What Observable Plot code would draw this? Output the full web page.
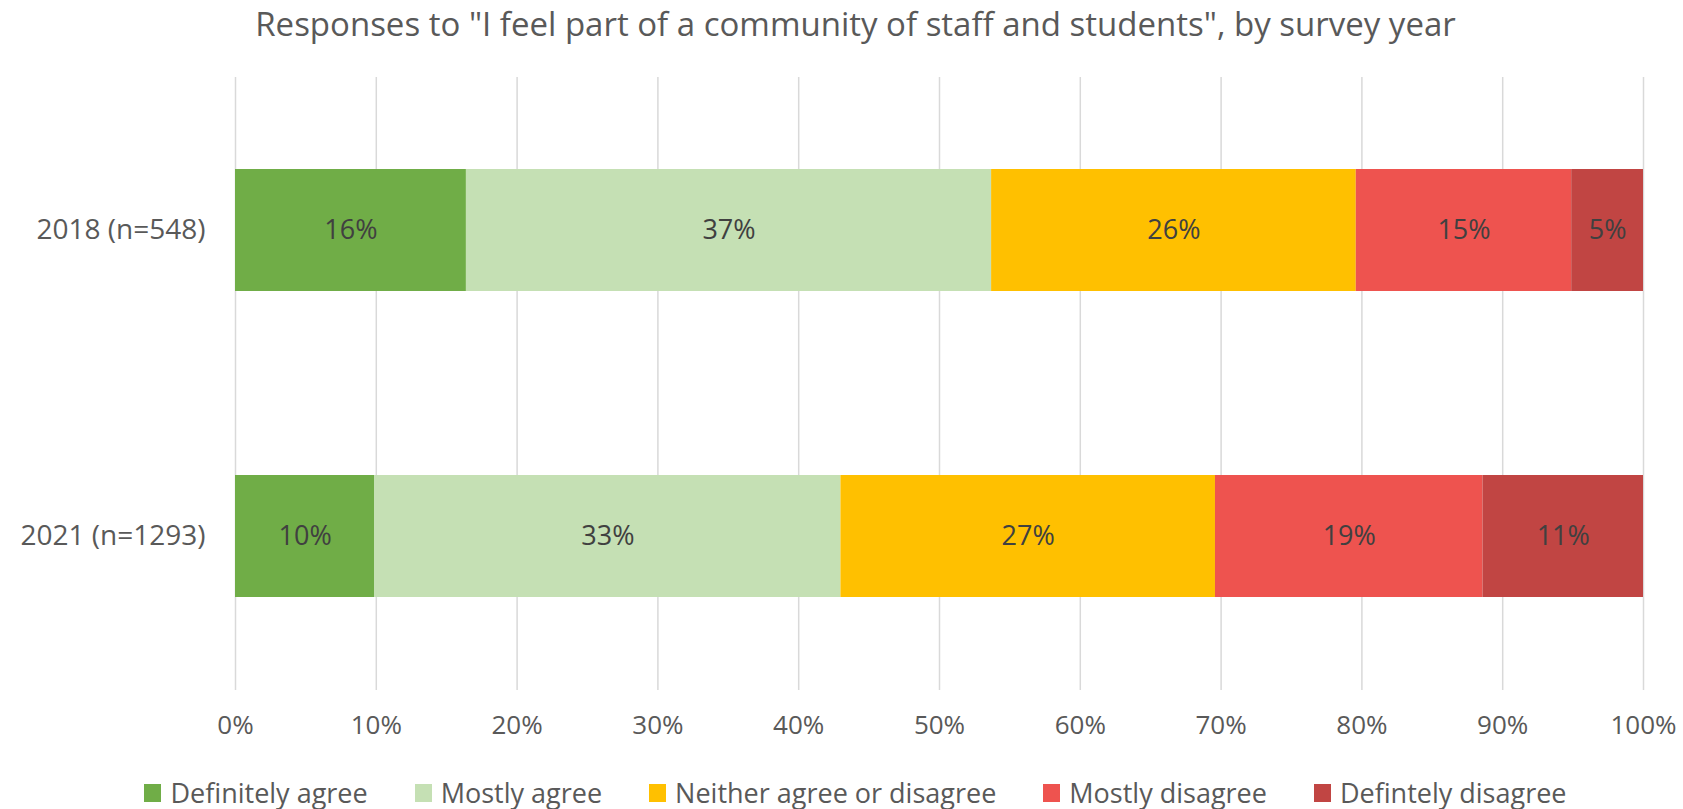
<!DOCTYPE html>
<html>
<head>
<meta charset="utf-8">
<script src="https://cdn.jsdelivr.net/npm/d3@7"></script>
<script src="https://cdn.jsdelivr.net/npm/@observablehq/plot@0.6"></script>
<style>
  html, body { margin: 0; padding: 0; background: #fff; }
  body { width: 1683px; height: 809px; overflow: hidden; font-family: "Open Sans", sans-serif; position: relative; }
  #title { height: 50px; line-height: 48px; text-align: center; font-size: 33px; color: #595959; padding-left: 28px; box-sizing: border-box; white-space: nowrap; }
  #chart svg { display: block; }
  #legend { position: absolute; left: 0; top: 772px; width: 1683px; box-sizing: border-box; display: flex; justify-content: center; align-items: center; gap: 47px; padding-left: 28px; height: 42px; font-size: 27px; line-height: 36px; color: #595959; }
  .item { display: flex; align-items: center; gap: 9px; }
  .sw { width: 17px; height: 18px; }
</style>
</head>
<body>
<div id="title">Responses to "I feel part of a community of staff and students", by survey year</div>
<div id="chart"></div>
<div id="legend"></div>
<script>
const years = ["2018 (n=548)", "2021 (n=1293)"];
const categories = ["Definitely agree", "Mostly agree", "Neither agree or disagree", "Mostly disagree", "Defintely disagree"];
const colors = ["#70AD47", "#C5E0B4", "#FFC000", "#EE534F", "#C14543"];
const values2018 = [16.4, 37.3, 25.9, 15.3, 5.1];
const values2021 = [9.9, 33.1, 26.6, 19.0, 11.4];
const xTicks = [0, 10, 20, 30, 40, 50, 60, 70, 80, 90, 100];

const series = [values2018, values2021];
const data = [];
years.forEach((y, i) => {
  categories.forEach((c, j) => {
    data.push({year: y, category: c, value: series[i][j], order: j});
  });
});

const chart = Plot.plot({
  width: 1683,
  height: 715,
  marginTop: 27,
  marginBottom: 75,
  marginLeft: 235,
  marginRight: 40,
  style: {fontFamily: "Open Sans, sans-serif", background: "#fff"},
  x: {domain: [0, 100], ticks: xTicks, tickFormat: d => d + "%", label: null, tickSize: 0, tickPadding: 25},
  y: {domain: years, paddingInner: 0.6, paddingOuter: 0.3, label: null, tickSize: 0, tickPadding: 30},
  color: {domain: categories, range: colors},
  marks: [
    Plot.ruleX(xTicks, {stroke: "#d9d9d9", strokeWidth: 1.5}),
    Plot.barX(data, Plot.stackX({x: "value", y: "year", fill: "category", order: "order"})),
    Plot.text(data, Plot.stackX({x: "value", y: "year", z: "category", order: "order", text: d => Math.round(d.value) + "%", fill: "#404040", fontSize: 27})),
    Plot.axisX({ticks: xTicks, tickFormat: d => d + "%", tickSize: 0, tickPadding: 25, fontSize: 26, color: "#595959", label: null}),
    Plot.axisY({tickSize: 0, tickPadding: 30, fontSize: 28, color: "#595959", label: null})
  ]
});
document.getElementById("chart").appendChild(chart);

const legend = document.getElementById("legend");
categories.forEach((c, i) => {
  const item = document.createElement("div");
  item.className = "item";
  const sw = document.createElement("div");
  sw.className = "sw";
  sw.style.background = colors[i];
  const t = document.createElement("span");
  t.textContent = c;
  item.appendChild(sw);
  item.appendChild(t);
  legend.appendChild(item);
});
</script>
</body>
</html>
